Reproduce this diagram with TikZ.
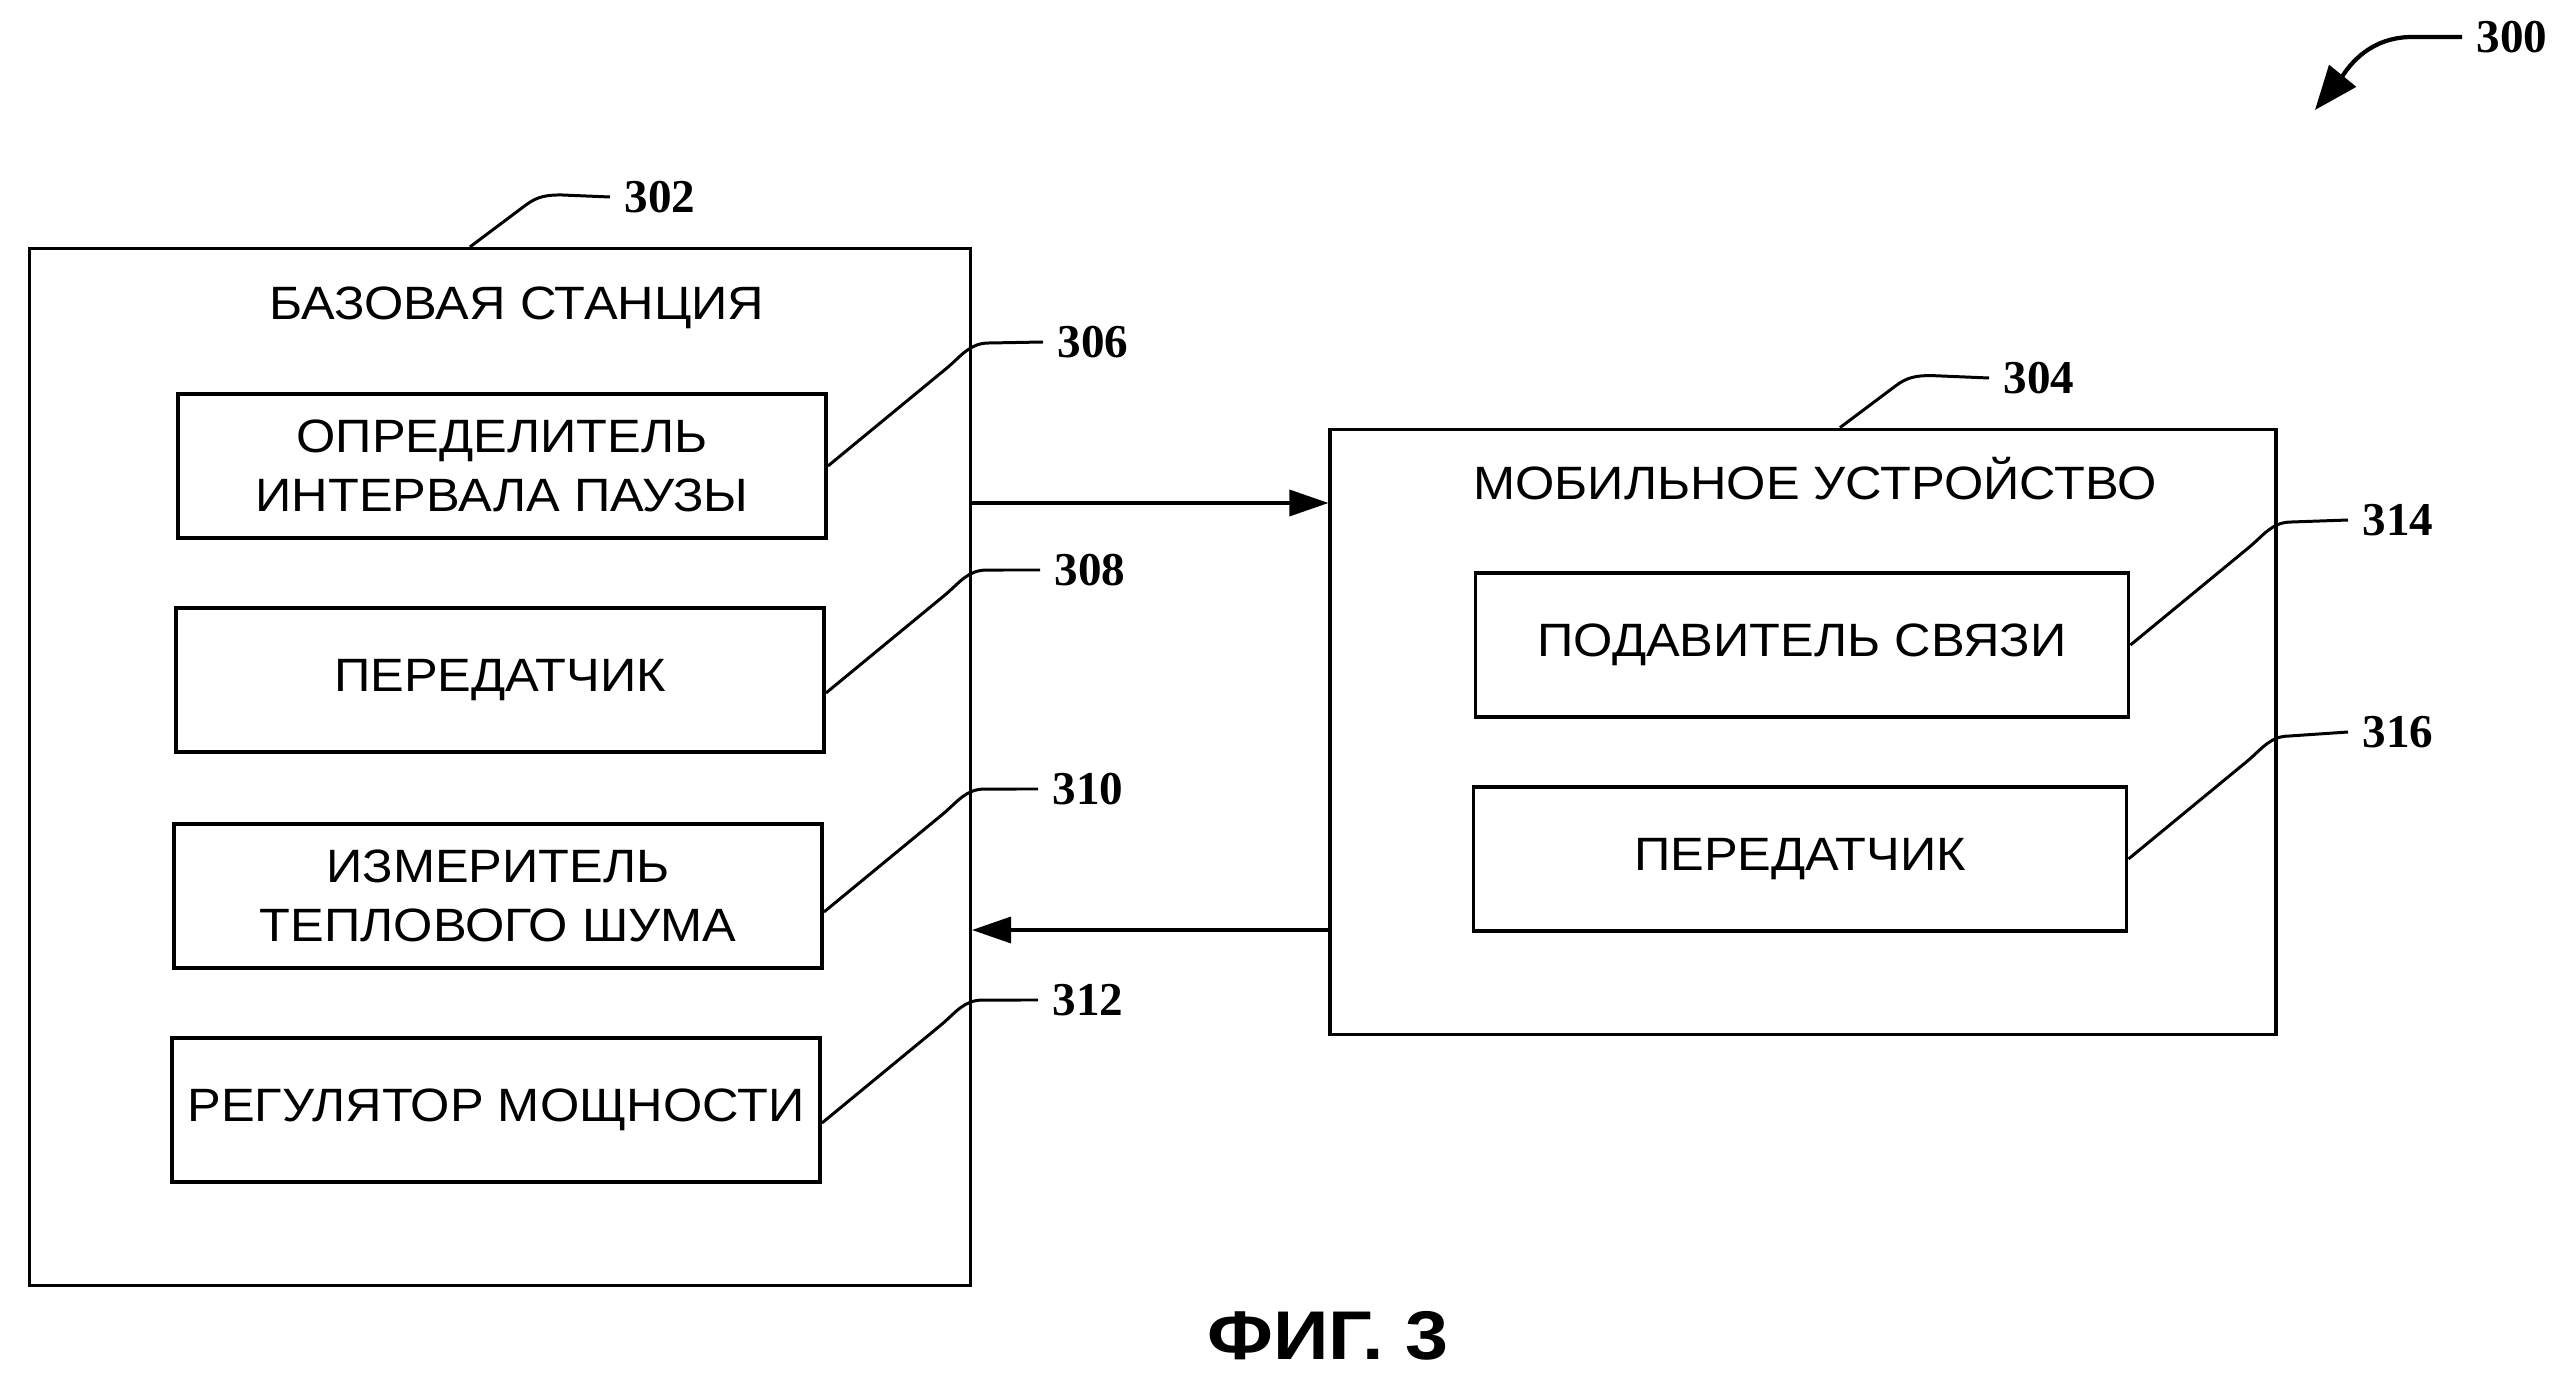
\documentclass[tikz,border=0pt]{standalone}
\usepackage{fontspec}
\setmainfont{Liberation Serif}
\newfontfamily\boxfamily{Liberation Sans}[FakeStretch=1.08]
\newfontfamily\figfamily{Liberation Sans}[FakeStretch=1.12]
\usetikzlibrary{positioning}
\usetikzlibrary{arrows.meta}

\newcommand\boxfont{\boxfamily\fontsize{13.3}{16.6}\selectfont}
\newcommand\numfont{\bfseries\fontsize{13.4}{14}\selectfont}
\newcommand\figfont{\figfamily\bfseries\fontsize{19.6}{21}\selectfont}

\begin{document}
\begin{tikzpicture}[x=0.01cm, y=-0.01cm,
  outerbox/.style={draw, line width=1pt, inner sep=0pt},
  blockbox/.style={draw, line width=1pt, minimum width=6.48cm, minimum height=1.44cm, align=center, inner sep=0pt, font=\boxfont},
  titletext/.style={font=\boxfont, inner sep=0pt},
  num/.style={font=\numfont, inner sep=1.4mm},
  leader/.style={line width=0.85pt},
  flow/.style={line width=1pt, -{Triangle[length=3.9mm,width=2.6mm]}}]

\useasboundingbox (0,0) rectangle (2568,1382);

% base station
\node[outerbox, minimum width=9.4cm, minimum height=10.36cm] (bs) at (500,767) {};
\node[titletext] (bstitle) at (517,308) {БАЗОВАЯ СТАНЦИЯ};
\node[blockbox] (pause) at (502,466) {ОПРЕДЕЛИТЕЛЬ\\ИНТЕРВАЛА ПАУЗЫ};
\node[blockbox] (bstx) at (500,680) {ПЕРЕДАТЧИК};
\node[blockbox] (noise) at (498,896) {ИЗМЕРИТЕЛЬ\\ТЕПЛОВОГО ШУМА};
\node[blockbox] (power) at (496,1110) {РЕГУЛЯТОР МОЩНОСТИ};

% mobile device
\node[outerbox, minimum width=9.45cm, minimum height=6.05cm] (md) at (1803,732) {};
\node[titletext] (mdtitle) at (1815,479) {МОБИЛЬНОЕ УСТРОЙСТВО};
\node[blockbox, minimum width=6.53cm] (supp) at (1802,645) {ПОДАВИТЕЛЬ СВЯЗИ};
\node[blockbox, minimum width=6.53cm] (mdtx) at (1800,859) {ПЕРЕДАТЧИК};

% reference numbers
\node[num, anchor=west] (l300) at (2462,37) {300};
\node[num, anchor=west] (l302) at (610,197) {302};
\node[num, anchor=west] (l304) at (1989,378) {304};
\node[num, anchor=west] (l306) at (1043,342) {306};
\node[num, anchor=west] (l308) at (1040,570) {308};
\node[num, anchor=west] (l310) at (1038,789) {310};
\node[num, anchor=west] (l312) at (1038,1000) {312};
\node[num, anchor=west] (l314) at (2348,520) {314};
\node[num, anchor=west] (l316) at (2348,732) {316};

\draw[leader] ([xshift=-3mm]bs.north) -- ++(56,-42) to[out=37,in=180] ++(35,-10) -- (l302.west);
\draw[leader] ([xshift=3.7mm]md.north) -- ++(56,-42) to[out=37,in=180] ++(35,-10) -- (l304.west);

\draw[leader] (pause.east) -- ++(119,-98) to[out=40,in=180] ++(42,-25) -- (l306.west);
\draw[leader] ([yshift=-1.3mm]bstx.east) -- ++(119,-98) to[out=40,in=180] ++(42,-25) -- (l308.west);
\draw[leader] ([yshift=-1.6mm]noise.east) -- ++(119,-98) to[out=40,in=180] ++(42,-25) -- (l310.west);
\draw[leader] ([yshift=-1.3mm]power.east) -- ++(119,-98) to[out=40,in=180] ++(42,-25) -- (l312.west);
\draw[leader] (supp.east) -- ++(119,-98) to[out=40,in=180] ++(42,-25) -- (l314.west);
\draw[leader] (mdtx.east) -- ++(119,-98) to[out=40,in=180] ++(42,-25) -- (l316.west);

% links
\coordinate (fwd) at (0,503);
\coordinate (back) at (0,930);
\draw[flow] (fwd -| bs.east) -- (fwd -| md.west);
\draw[flow] (back -| md.west) -- (back -| bs.east);

\coordinate (sys) at (2315,110);
\draw[line width=1.2pt, -{Triangle[length=4.4mm,width=3.4mm]}] (l300.west) -- ++(-50,0) to[out=180,in=51] (sys);

\node[font=\figfont, inner sep=0pt] (fig) at (1328,1336) {ФИГ. 3};

\end{tikzpicture}
\end{document}
